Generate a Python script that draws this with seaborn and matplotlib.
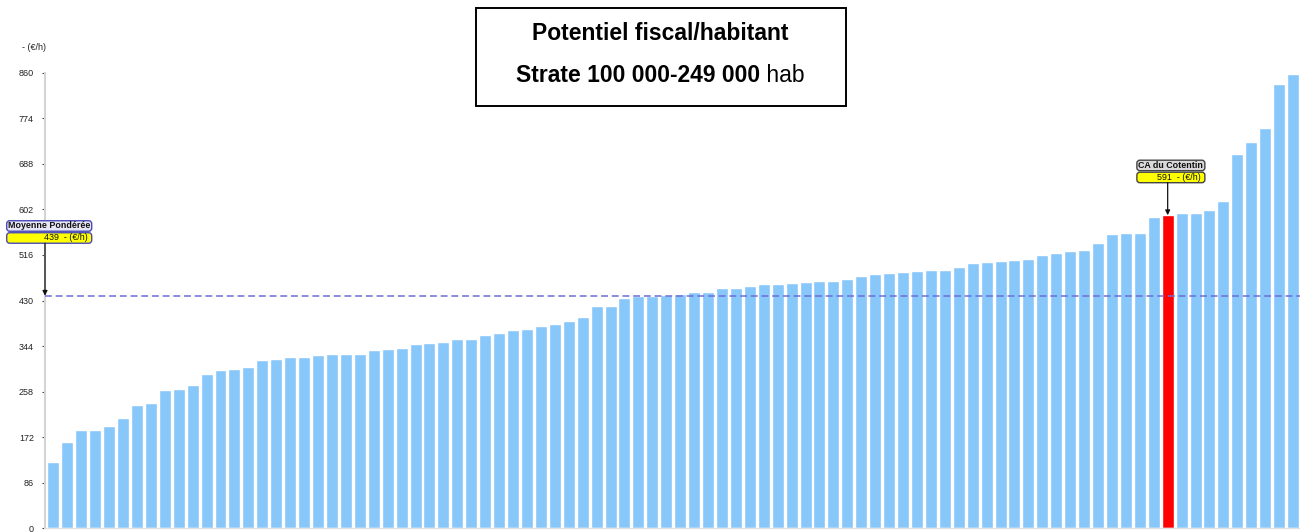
import matplotlib
matplotlib.use("Agg")
import matplotlib.pyplot as plt
import pandas as pd
import seaborn as sns
from matplotlib.patches import FancyBboxPatch, Rectangle, FancyArrowPatch
from matplotlib.transforms import IdentityTransform

# ---- data -------------------------------------------------------------
values = [126, 162, 186, 186, 194, 208, 233, 237, 262, 263,
          271, 291, 299, 301, 305, 318, 319, 323, 323, 327,
          329, 329, 329, 336, 338, 341, 348, 349, 351, 357,
          357, 365, 369, 375, 377, 381, 385, 391, 399, 420,
          420, 434, 438, 438, 440, 443, 446, 446, 453, 454,
          458, 461, 462, 463, 464, 466, 467, 471, 476, 480,
          482, 483, 486, 488, 488, 494, 500, 502, 504, 506,
          509, 516, 520, 524, 526, 538, 556, 557, 557, 587,
          591, 595, 595, 600, 617, 706, 729, 755, 838, 858]
highlight_index = 80
highlight_name = "CA du Cotentin"
mean_value = 439
mean_name = "Moyenne Pondérée"
unit = "(€/h)"
y_ticks = [0, 86, 172, 258, 344, 430, 516, 602, 688, 774, 860]
title_line1 = "Potentiel fiscal/habitant"
title_line2_bold = "Strate 100 000-249 000"
title_line2_regular = " hab"

# ---- style ------------------------------------------------------------
sns.set_style("white")
plt.rcParams["font.family"] = ["Liberation Sans", "DejaVu Sans"]

W, H = 1300, 532
fig = plt.figure(figsize=(W / 100, H / 100), dpi=100)
fig.patch.set_facecolor("white")

ax_left, ax_right = 45, 1300
ax_bottom, ax_top = 528.3, 72.7          # pixel rows from the top
ax = fig.add_axes([ax_left / W, (H - ax_bottom) / H,
                   (ax_right - ax_left) / W, (ax_bottom - ax_top) / H])

BAR = "#88C7FA"
HIGHLIGHT = "#FF0000"
df = pd.DataFrame({"rank": list(range(len(values))), "value": values})
colors = [HIGHLIGHT if i == highlight_index else BAR for i in df["rank"]]
sns.barplot(data=df, x="rank", y="value", hue="rank", palette=colors,
            legend=False, width=0.86, saturation=1, ax=ax)

ax.set_xlim(-0.6, len(values) - 0.5)
ax.set_ylim(0, y_ticks[-1])
ax.set_yticks(y_ticks)
ax.set_yticklabels([str(t) for t in y_ticks])
ax.set_xticks([])
ax.set_xlabel("")
ax.set_ylabel("")
ax.tick_params(axis="y", left=True, length=2.5, width=0.8, color="#444444",
               pad=5.5, labelsize=6.5, labelcolor="#222222")
for side in ("top", "right"):
    ax.spines[side].set_visible(False)
ax.spines["left"].set_color("#D4D4D4")
ax.spines["left"].set_linewidth(1.5)
ax.spines["bottom"].set_color("#E2E2E2")
ax.spines["bottom"].set_linewidth(1.0)

# weighted average line
ax.axhline(mean_value, color="#6E6ED8", lw=1.1, ls=(0, (4.5, 2.5)), zorder=3)

# unit label above the axis
ident = IdentityTransform()
fig.text(45.5, H - 48, "- " + unit, transform=ident, ha="right", va="center",
         fontsize=6.5, color="#222222")


# ---- callouts ---------------------------------------------------------
def callout(x_data, y_data, name, value_text, name_face, edge, dx, gap, width):
    px, py = ax.transData.transform((x_data, y_data))
    cx = px + dx
    h_val, h_name, sep = 10.5, 10.5, 1.5
    val_bottom = py + gap
    name_bottom = val_bottom + h_val + sep
    style = "round,pad=0,rounding_size=3"
    fig.add_artist(FancyBboxPatch((cx - width / 2, val_bottom), width, h_val,
                                  boxstyle=style, facecolor="#FFFF00",
                                  edgecolor=edge, lw=1.0, transform=ident))
    fig.add_artist(FancyBboxPatch((cx - width / 2, name_bottom), width, h_name,
                                  boxstyle=style, facecolor=name_face,
                                  edgecolor=edge, lw=1.0, transform=ident))
    fig.text(cx, name_bottom + h_name / 2, name, transform=ident,
             ha="center", va="center", fontsize=6.4, fontweight="bold",
             color="#111111")
    fig.text(cx + width / 2 - 4, val_bottom + h_val / 2, value_text,
             transform=ident, ha="right", va="center", fontsize=6.4,
             color="#111111")
    fig.add_artist(FancyArrowPatch((px, val_bottom), (px, py), transform=ident,
                                   arrowstyle="-|>", mutation_scale=7,
                                   color="#111111", lw=0.9,
                                   shrinkA=0, shrinkB=0))


x0 = ax.get_xlim()[0]
callout(x0, mean_value, mean_name, f"{mean_value}  - {unit}",
        "#E6E6F7", "#4A4AB8", dx=4.2, gap=52.5, width=85)
callout(highlight_index, values[highlight_index], highlight_name,
        f"{values[highlight_index]}  - {unit}",
        "#D9D9D9", "#444444", dx=3.2, gap=32.5, width=68)

# ---- title box --------------------------------------------------------
fig.add_artist(Rectangle((475.5, H - 106), 370, 98, transform=ident,
                         facecolor="white", edgecolor="black", lw=1.4))
fig.text(660, H - 33, title_line1, transform=ident, ha="center", va="center",
         fontsize=16.5, fontweight="bold", color="black")
renderer = fig.canvas.get_renderer()
t_bold = fig.text(0, H - 75, title_line2_bold, transform=ident, ha="left",
                  va="center", fontsize=16.5, fontweight="bold", color="black")
t_reg = fig.text(0, H - 75, title_line2_regular, transform=ident, ha="left",
                 va="center", fontsize=16.5, color="black")
wb = t_bold.get_window_extent(renderer).width
wr = t_reg.get_window_extent(renderer).width
start = 660 - (wb + wr) / 2
t_bold.set_x(start)
t_reg.set_x(start + wb)

fig.savefig("out.png", dpi=100, facecolor="white")
